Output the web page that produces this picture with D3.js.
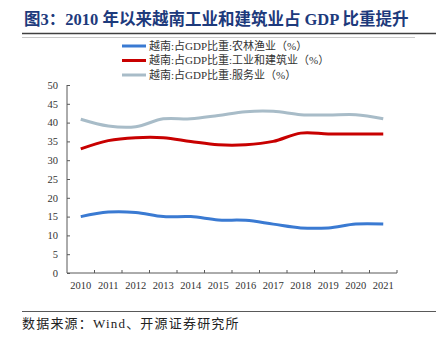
<!DOCTYPE html>
<html>
<head>
<meta charset="utf-8">
<script src="https://cdn.jsdelivr.net/npm/d3@7"></script>
<style>
  body { margin: 0; background: #fff; }
  svg { display: block; }
  .axis path, .axis line { stroke: #595959; }
  .axis text { font-family: "Liberation Serif", "Noto Sans CJK SC", serif; font-size: 10.5px; fill: #333; }
</style>
</head>
<body>
<div id="chart"></div>
<script>
var years = ["2010", "2011", "2012", "2013", "2014", "2015", "2016", "2017", "2018", "2019", "2020", "2021"];
var agri = [15, 16.2, 16.1, 15, 15, 14.1, 14, 13, 12, 12, 13, 13];
var industry = [33, 35.2, 36, 36, 35, 34.1, 34.1, 35, 37.2, 37, 37, 37];
var services = [40.9, 39.1, 38.9, 41, 41, 41.9, 42.9, 43, 42.1, 42, 42.1, 41];
var seriesNames = ["越南:占GDP比重:农林渔业（%）", "越南:占GDP比重:工业和建筑业（%）", "越南:占GDP比重:服务业（%）"];
var seriesColors = ["#3a7ad2", "#c80000", "#a8bcc8"];
var yTicks = [0, 5, 10, 15, 20, 25, 30, 35, 40, 45, 50];

var W = 436, H = 340;
var margin = { top: 85, right: 39, bottom: 67, left: 67 },
    width = W - margin.left - margin.right,
    height = H - margin.top - margin.bottom;

var svg = d3.select("#chart").append("svg")
    .attr("width", W)
    .attr("height", H);

// Title
svg.append("text")
    .attr("x", 24)
    .attr("y", 25)
    .attr("fill", "#1d3a7c")
    .attr("font-family", "'Liberation Serif', 'Noto Sans CJK SC', serif")
    .attr("font-weight", "bold")
    .attr("font-size", "16.5px")
    .text("图3：2010 年以来越南工业和建筑业占 GDP 比重提升");

svg.append("line")
    .attr("x1", 22).attr("x2", 436)
    .attr("y1", 33.5).attr("y2", 33.5)
    .attr("stroke", "#404040").attr("stroke-width", 1.5);
svg.append("line")
    .attr("x1", 22).attr("x2", 415)
    .attr("y1", 37.5).attr("y2", 37.5)
    .attr("stroke", "#c8c8c8").attr("stroke-width", 1);

// Legend
var legend = svg.append("g").attr("transform", "translate(122,46)");
seriesNames.forEach(function(name, i) {
    var g = legend.append("g").attr("transform", "translate(0," + (i * 14.5) + ")");
    g.append("line")
        .attr("x1", 0).attr("x2", 24)
        .attr("y1", 0).attr("y2", 0)
        .attr("stroke", seriesColors[i])
        .attr("stroke-width", 3);
    g.append("text")
        .attr("x", 27)
        .attr("y", 0)
        .attr("dy", "0.35em")
        .attr("font-family", "'Liberation Serif', 'Noto Sans CJK SC', serif")
        .attr("font-size", "11px")
        .attr("fill", "#333")
        .text(name);
});

var plot = svg.append("g")
    .attr("transform", "translate(" + margin.left + "," + margin.top + ")");

var x = d3.scaleBand()
    .domain(years)
    .range([0, width]);

var y = d3.scaleLinear()
    .domain([0, 50])
    .range([height, 0]);

// Axes (inward ticks)
var xAxis = d3.axisBottom(x).tickSize(0).tickPadding(9);
plot.append("g")
    .attr("class", "x axis")
    .attr("transform", "translate(0," + height + ")")
    .call(xAxis)
    .call(function(g) { g.select(".domain").attr("d", "M0,0H" + width); });

// category separators on x axis
plot.append("g")
    .selectAll("line")
    .data(years.slice(1).concat(["end"]))
    .enter().append("line")
    .attr("x1", function(d, i) { return (i + 1) * x.bandwidth(); })
    .attr("x2", function(d, i) { return (i + 1) * x.bandwidth(); })
    .attr("y1", height)
    .attr("y2", height - 3)
    .attr("stroke", "#595959");

var yAxis = d3.axisLeft(y).tickValues(yTicks).tickSize(-3).tickPadding(9);
plot.append("g")
    .attr("class", "y axis")
    .call(yAxis)
    .call(function(g) { g.select(".domain").attr("d", "M0," + height + "V0"); });

// Lines
var line = d3.line()
    .x(function(d, i) { return x(years[i]) + x.bandwidth() / 2; })
    .y(function(d) { return y(d); })
    .curve(d3.curveCatmullRom.alpha(0.5));

[agri, industry, services].forEach(function(vals, i) {
    plot.append("path")
        .datum(vals)
        .attr("fill", "none")
        .attr("stroke", seriesColors[i])
        .attr("stroke-width", 3)
        .attr("stroke-linecap", "butt")
        .attr("d", line);
});

// Footer
svg.append("line")
    .attr("x1", 22).attr("x2", 436)
    .attr("y1", 311.5).attr("y2", 311.5)
    .attr("stroke", "#595959").attr("stroke-width", 1);
svg.append("text")
    .attr("x", 22)
    .attr("y", 328)
    .attr("font-family", "'Liberation Serif', 'Noto Sans CJK SC', serif")
    .attr("font-size", "13px")
    .attr("letter-spacing", "1.2px")
    .attr("fill", "#222")
    .text("数据来源：Wind、开源证券研究所");
</script>
</body>
</html>
